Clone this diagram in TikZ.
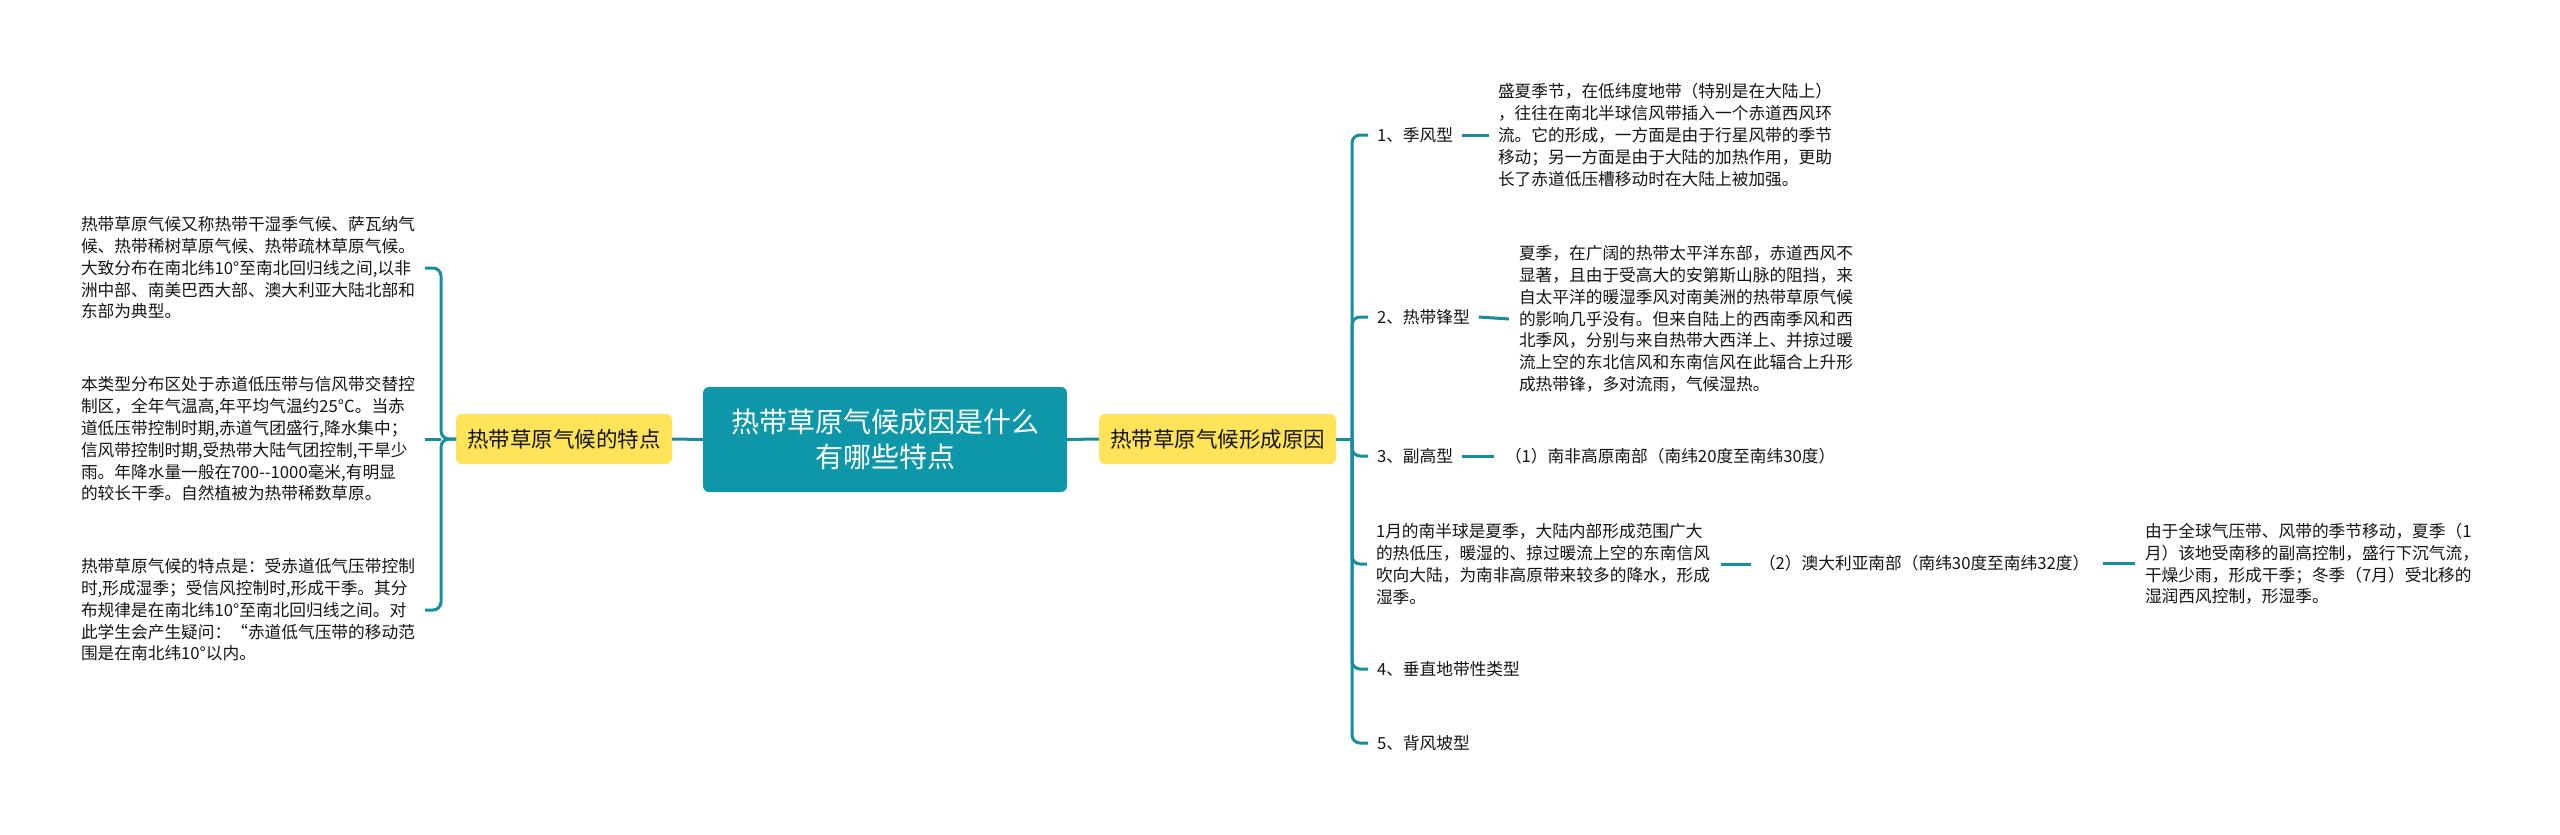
\documentclass[tikz,border=0pt]{standalone}
\usepackage{fontspec}
\newfontfamily\cjk{Noto Sans CJK SC}
\definecolor{tealfill}{RGB}{14,151,168}
\definecolor{linec}{RGB}{20,142,160}
\definecolor{yel}{RGB}{255,228,90}
\definecolor{txt}{RGB}{20,20,20}
\begin{document}
\begin{tikzpicture}[x=0.5pt,y=-0.5pt,
  body/.style={inner sep=0pt, outer sep=0pt, anchor=west, align=left, text=txt,
    font=\cjk\fontsize{8.35pt}{10.9pt}\selectfont},
  centralbox/.style={fill=tealfill, rounded corners=3pt, text=white, align=center,
    minimum width=182pt, minimum height=52.5pt, inner sep=0pt, outer sep=0pt,
    font=\cjk\fontsize{14pt}{17.5pt}\selectfont},
  yelbox/.style={fill=yel, rounded corners=3pt, text=txt, minimum height=25pt,
    inner sep=0pt, outer sep=0pt, font=\cjk\fontsize{10.75pt}{13pt}\selectfont},
  conn/.style={draw=linec, line width=1.5pt},
  br/.style={draw=linec, line width=1.5pt, rounded corners=4pt}]
\useasboundingbox (0,0) rectangle (2560,835);

% central and main branches
\node[centralbox] (c) at (885,439.5) {热带草原气候成因是什么\\有哪些特点};
\node[yelbox, minimum width=108pt] (ly) at (564,439) {热带草原气候的特点};
\node[yelbox, minimum width=118.5pt] (ry) at (1217.5,439) {热带草原气候形成原因};
\draw[conn] (c.west) -- (ly.east);
\draw[conn] (c.east) -- (ry.east -| ry.west);

% left texts
\node[body] (lt1) at (81,268) {热带草原气候又称热带干湿季气候、萨瓦纳气\\候、热带稀树草原气候、热带疏林草原气候。\\大致分布在南北纬10°至南北回归线之间,以非\\洲中部、南美巴西大部、澳大利亚大陆北部和\\东部为典型。};
\node[body] (lt2) at (81,439) {本类型分布区处于赤道低压带与信风带交替控\\制区，全年气温高,年平均气温约25°C。当赤\\道低压带控制时期,赤道气团盛行,降水集中；\\信风带控制时期,受热带大陆气团控制,干旱少\\雨。年降水量一般在700-{}-1000毫米,有明显\\的较长干季。自然植被为热带稀数草原。};
\node[body] (lt3) at (81,610) {热带草原气候的特点是：受赤道低气压带控制\\时,形成湿季；受信风控制时,形成干季。其分\\布规律是在南北纬10°至南北回归线之间。对\\此学生会产生疑问：“赤道低气压带的移动范\\围是在南北纬10°以内。};
\coordinate (lj) at (441,439);
\draw[br] (ly.west) -- (lj) |- (425,268);
\draw[br] (ly.west) -- (lj) |- (425,610);
\draw[conn] (lj) -- (425,439);

% right branch labels
\node[body] (r1) at (1377,135) {1、季风型};
\node[body] (r2) at (1377,317) {2、热带锋型};
\node[body] (r3) at (1377,456) {3、副高型};
\node[body] (r3b) at (1376,564) {1月的南半球是夏季，大陆内部形成范围广大\\的热低压，暖湿的、掠过暖流上空的东南信风\\吹向大陆，为南非高原带来较多的降水，形成\\湿季。};
\node[body] (r4) at (1377,669) {4、垂直地带性类型};
\node[body] (r5) at (1377,743) {5、背风坡型};

\coordinate (rj) at (1352,439);
\draw[conn] (ry.east) -- (rj);
\foreach \n in {r1,r2,r3,r3b,r4,r5}{
  \draw[br] (rj) |- ([xshift=-4.5pt]\n.west);
}

% right details
\node[body] (p1) at (1498,135) {盛夏季节，在低纬度地带（特别是在大陆上）\\，往往在南北半球信风带插入一个赤道西风环\\流。它的形成，一方面是由于行星风带的季节\\移动；另一方面是由于大陆的加热作用，更助\\长了赤道低压槽移动时在大陆上被加强。};
\node[body] (p2) at (1519,319) {夏季，在广阔的热带太平洋东部，赤道西风不\\显著，且由于受高大的安第斯山脉的阻挡，来\\自太平洋的暖湿季风对南美洲的热带草原气候\\的影响几乎没有。但来自陆上的西南季风和西\\北季风，分别与来自热带大西洋上、并掠过暖\\流上空的东北信风和东南信风在此辐合上升形\\成热带锋，多对流雨，气候湿热。};
\node[body] (s1) at (1505,456) {（1）南非高原南部（南纬20度至南纬30度）};
\node[body] (s2) at (1759,563) {（2）澳大利亚南部（南纬30度至南纬32度）};
\node[body] (p4) at (2145,564) {由于全球气压带、风带的季节移动，夏季（1\\月）该地受南移的副高控制，盛行下沉气流，\\干燥少雨，形成干季；冬季（7月）受北移的\\湿润西风控制，形湿季。};

\draw[conn] ([xshift=4.5pt]r1.east) -- ([xshift=-4.5pt]p1.west);
\draw[conn] ([xshift=4.5pt]r2.east) -- ([xshift=-5pt]p2.west);
\draw[conn] ([xshift=4.5pt]r3.east) -- ([xshift=-5.5pt]s1.west);
\draw[conn] ([xshift=5.5pt]r3b.east) -- ([xshift=-4pt]s2.west|-r3b.east);
\draw[conn] ([xshift=7pt]s2.east) -- ([xshift=-5pt]p4.west|-s2.east);
\end{tikzpicture}
\end{document}
